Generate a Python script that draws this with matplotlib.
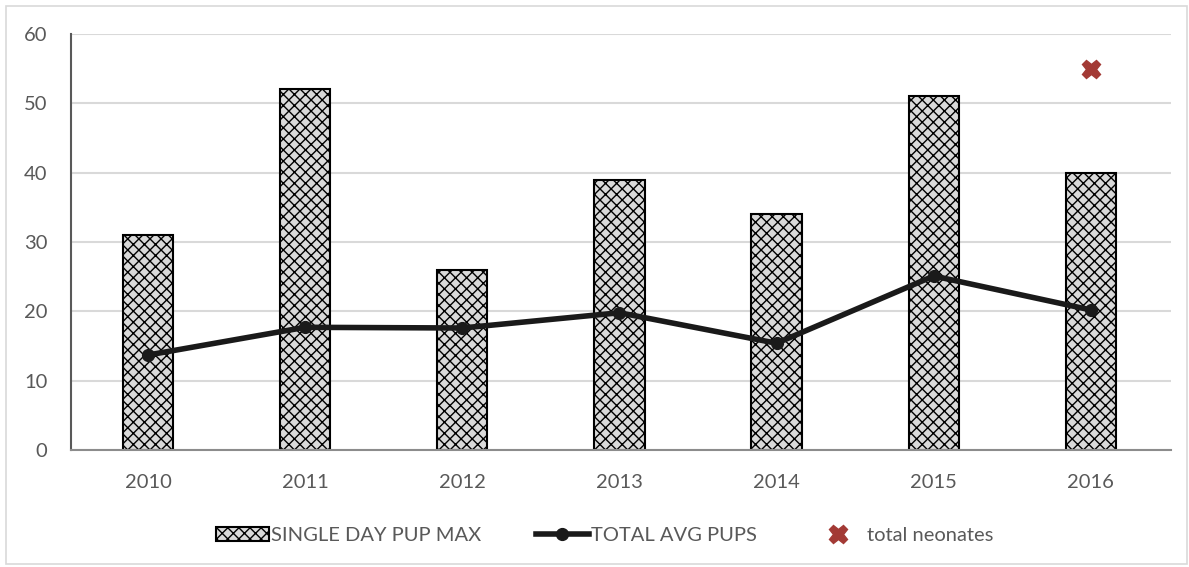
import numpy as np
import matplotlib.pyplot as plt
from matplotlib.patches import Rectangle

plt.rcParams['font.family'] = ['Lato', 'DejaVu Sans']
plt.rcParams['hatch.linewidth'] = 1.0

years = ['2010', '2011', '2012', '2013', '2014', '2015', '2016']
single_day_max = [31, 52, 26, 39, 34, 51, 40]
total_avg = [13.7, 17.7, 17.6, 19.8, 15.4, 25.1, 20.2]
neonate_years = ['2016']
total_neonates = [55]

text_grey = "#595959"
grid_grey = "#d9d9d9"
mark_red = "#a33a35"
fs = 14.5

fig = plt.figure(figsize=(11.89, 5.67), dpi=100)
ax = fig.add_axes([71 / 1189, 0.2063, 1100 / 1189, 0.7337])

x = np.arange(len(years))
bars = ax.bar(x, single_day_max, width=0.32, color="#d9d9d9", edgecolor="black",
              hatch='xxx', linewidth=1.5, label='SINGLE DAY PUP MAX', zorder=2)
line, = ax.plot(x, total_avg, color="#1a1a1a", lw=4, marker='o', ms=8.5,
                label='TOTAL AVG PUPS', zorder=3)
nx = [years.index(y) for y in neonate_years]
neo, = ax.plot(nx, total_neonates, ls='none', marker='X', ms=13, color=mark_red,
               mec=mark_red, label='total neonates', zorder=4)

ax.set_xlim(-0.49, len(years) - 0.49)
ax.set_ylim(0, 60)
ax.set_yticks(range(0, 61, 10))
ax.set_xticks(x)
ax.set_xticklabels(years)
ax.tick_params(axis='both', length=0, labelsize=fs, colors=text_grey)
ax.tick_params(axis='x', pad=17)
ax.tick_params(axis='y', pad=17)
ax.yaxis.grid(True, color=grid_grey, lw=1.5, zorder=0)
ax.set_axisbelow(True)
for s in ['top', 'right']:
    ax.spines[s].set_visible(False)
ax.spines['left'].set_color("#595959")
ax.spines['left'].set_linewidth(1.5)
ax.spines['bottom'].set_color("#8c8c8c")
ax.spines['bottom'].set_linewidth(1.5)

leg = ax.legend([bars, line, neo], [bars.get_label(), line.get_label(), neo.get_label()],
                loc='center', bbox_to_anchor=(0.485, -0.205), ncol=3,
                frameon=False, fontsize=fs, handlelength=2.65,
                handletextpad=0.1, columnspacing=2.7)
for t in leg.get_texts():
    t.set_color(text_grey)

# light frame around the whole chart
fig.patches.append(Rectangle((0.005, 0.005), 0.993, 0.984, transform=fig.transFigure,
                             fill=False, edgecolor=grid_grey, lw=1.2))

fig.savefig('out.png', dpi=100)
